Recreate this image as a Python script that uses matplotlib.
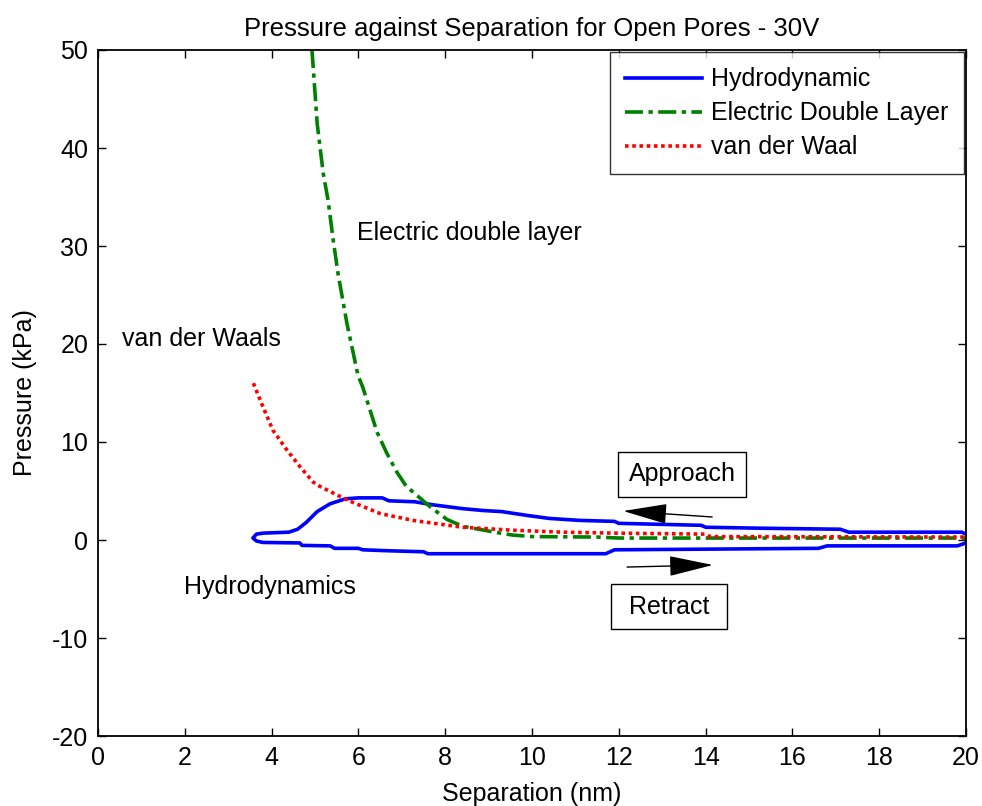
import matplotlib
matplotlib.use("Agg")
import matplotlib.pyplot as plt

plt.rcParams['font.family'] = ['Liberation Sans', 'DejaVu Sans']
plt.rcParams['axes.unicode_minus'] = False

# ---- data ----
# Hydrodynamic: approach branch (upper) and retract branch (lower)
approach_x = [20.0, 19.9, 17.3, 17.1, 15.3, 14.0, 13.9, 12.0, 11.9, 11.1, 10.4, 9.9,
              9.3, 8.9, 8.4, 7.7, 7.3, 6.7, 6.55, 6.0, 5.7, 5.35, 5.05, 4.8, 4.6,
              4.4, 3.8, 3.65, 3.57]
approach_y = [0.6, 0.8, 0.8, 1.1, 1.2, 1.3, 1.5, 1.7, 1.9, 2.0, 2.2, 2.5,
              2.9, 3.0, 3.2, 3.6, 3.9, 4.0, 4.3, 4.3, 4.2, 3.7, 2.9, 1.8, 1.1,
              0.8, 0.7, 0.6, 0.2]
retract_x = [3.57, 3.65, 3.8, 4.65, 4.7, 5.35, 5.45, 6.0, 6.1, 6.7, 7.5, 7.6,
             11.7, 11.9, 16.6, 16.8, 19.8, 20.0]
retract_y = [0.2, -0.1, -0.25, -0.3, -0.55, -0.6, -0.85, -0.85, -1.0, -1.1, -1.2, -1.4,
             -1.4, -1.0, -0.85, -0.6, -0.6, -0.3]

edl_x = [4.93, 5.05, 5.19, 5.3, 5.42, 5.53, 5.74, 5.88, 5.99, 6.1, 6.43, 6.65,
         6.89, 7.1, 7.65, 8.04, 8.4, 9.2, 9.56, 10.0, 11.5, 12.0, 14.0, 16.0, 18.0, 20.0]
edl_y = [50.0, 42.5, 37.4, 34.7, 30.6, 27.2, 22.0, 19.1, 16.8, 15.6, 11.0, 8.9,
         6.9, 5.5, 3.4, 2.1, 1.4, 0.75, 0.5, 0.35, 0.3, 0.2, 0.2, 0.2, 0.2, 0.2]

vdw_x = [3.58, 3.8, 4.03, 4.19, 4.35, 4.65, 4.96, 5.1, 5.73, 6.5, 7.26, 8.4,
         9.56, 10.7, 11.9, 14.0, 14.1, 20.0]
vdw_y = [16.0, 13.6, 11.2, 10.2, 9.2, 7.5, 5.9, 5.5, 4.1, 2.7, 2.0, 1.3,
         1.0, 0.8, 0.7, 0.6, 0.35, 0.3]

x_ticks = list(range(0, 21, 2))
y_ticks = list(range(-20, 51, 10))

title = "Pressure against Separation for Open Pores - 30V"
legend_labels = ["Hydrodynamic", "Electric Double Layer", "van der Waal"]

# ---- figure ----
fig = plt.figure(figsize=(9.82, 8.06), dpi=100)
ax = fig.add_axes([98/982, 1-736/806, (966-98)/982, (736-50)/806])

hyd_x = approach_x + retract_x[1:]
hyd_y = approach_y + retract_y[1:]
ax.plot(hyd_x, hyd_y, color=(0, 0, 1), lw=2.6, label=legend_labels[0])
ax.plot(edl_x, edl_y, color=(0, 0.5, 0), lw=2.6, ls=(0, (5, 1.5, 1.2, 1.5)),
        label=legend_labels[1])
ax.plot(vdw_x, vdw_y, color=(1, 0, 0), lw=2.6, ls=(0, (1.0, 1.0)),
        dash_capstyle='butt', label=legend_labels[2])

ax.set_xlim(0, 20)
ax.set_ylim(-20, 50)
ax.set_xticks(x_ticks)
ax.set_yticks(y_ticks)
ax.tick_params(direction='in', length=6, width=1, top=True, right=True,
               labelsize=18, pad=7)
for s in ax.spines.values():
    s.set_linewidth(1.3)

ax.set_title(title, fontsize=18.5, pad=10)
ax.set_xlabel("Separation (nm)", fontsize=18, labelpad=9)
ax.set_ylabel("Pressure (kPa)", fontsize=18, labelpad=11)

leg = ax.legend(loc='upper right', bbox_to_anchor=(1.0, 1.0), borderaxespad=0.1,
                fontsize=18, frameon=True, fancybox=False, handlelength=3.1,
                handletextpad=0.35, labelspacing=0.4, borderpad=0.6)
leg.get_frame().set_edgecolor('black')
leg.get_frame().set_linewidth(1.0)

ax.text(5.97, 31.3, "Electric double layer", fontsize=18, va='center', ha='left')
ax.text(0.55, 20.5, "van der Waals", fontsize=18, va='center', ha='left')
ax.text(1.98, -4.8, "Hydrodynamics", fontsize=18, va='center', ha='left')

box = dict(boxstyle='square,pad=0.42', fc='white', ec='black', lw=1.0)
ax.text(13.46, 6.73, "Approach", fontsize=18, ha='center', va='center', bbox=box)
ax.text(13.16, -6.79, " Retract ", fontsize=18, ha='center', va='center', bbox=box)

arrow = dict(arrowstyle='-|>,head_length=1.4,head_width=0.32', color='black',
             lw=1.0, mutation_scale=20, shrinkA=0, shrinkB=0)
ax.annotate('', xy=(12.1, 2.96), xytext=(14.15, 2.35), arrowprops=arrow)
ax.annotate('', xy=(14.17, -2.55), xytext=(12.19, -2.76), arrowprops=arrow)

fig.savefig("out.png", dpi=100)
